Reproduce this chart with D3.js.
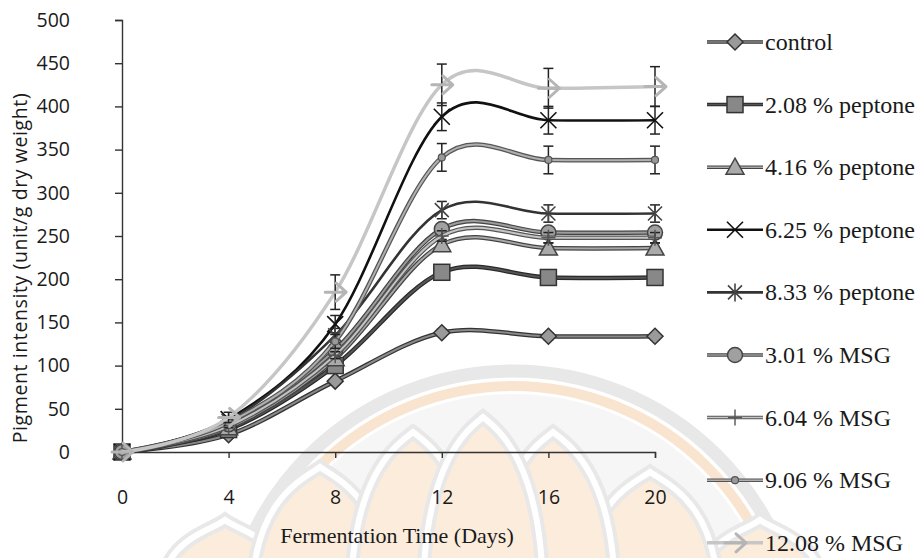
<!DOCTYPE html>
<html><head><meta charset="utf-8">
<script src="https://cdn.jsdelivr.net/npm/d3@7"></script>
<style>body{margin:0;background:#fff}svg{display:block}</style>
</head><body><svg id="c" width="918" height="558"></svg>
<script>
// ---- data ----
const days = [0, 4, 8, 12, 16, 20];
const yTicks = [0, 50, 100, 150, 200, 250, 300, 350, 400, 450, 500];
const seriesNames = ["control", "2.08 % peptone", "4.16 % peptone", "6.25 % peptone", "8.33 % peptone", "3.01 % MSG", "6.04 % MSG", "9.06  % MSG", "12.08 % MSG"];
const control    = [0, 20, 82, 138, 134, 134];
const peptone208 = [0, 26, 100, 208, 202, 202];
const peptone416 = [0, 28, 108, 240, 236, 236];
const peptone625 = [0, 38, 148, 388, 384, 384];
const peptone833 = [0, 36, 135, 280, 276, 276];
const msg301     = [0, 32, 118, 258, 254, 254];
const msg604     = [0, 30, 112, 250, 248, 248];
const msg906     = [0, 34, 128, 341, 338, 338];
const msg1208    = [0, 40, 185, 425, 421, 423];
const errControl    = [0, 2, 3, 4, 4, 4];
const errPeptone208 = [0, 2, 4, 5, 5, 5];
const errPeptone416 = [0, 2, 4, 6, 6, 6];
const errPeptone625 = [0, 3, 10, 16, 16, 16];
const errPeptone833 = [0, 3, 8, 10, 10, 10];
const errMsg301     = [0, 2, 4, 6, 6, 6];
const errMsg604     = [0, 2, 4, 6, 6, 6];
const errMsg906     = [0, 3, 8, 16, 16, 16];
const errMsg1208    = [0, 6, 20, 24, 23, 23];

const values = [control, peptone208, peptone416, peptone625, peptone833, msg301, msg604, msg906, msg1208];
const errs = [errControl, errPeptone208, errPeptone416, errPeptone625, errPeptone833, errMsg301, errMsg604, errMsg906, errMsg1208];

// ---- styles ----
const styles = [
  {outer:"#333", inner:"#8a8a8a", marker:"diamond", fill:"#9a9a9a", mstroke:"#333"},
  {outer:"#2a2a2a", inner:"#555", marker:"square", fill:"#888", mstroke:"#333"},
  {outer:"#444", inner:"#a8a8a8", marker:"triangle", fill:"#aaa", mstroke:"#444"},
  {outer:null, inner:"#111", marker:"x", fill:"none", mstroke:"#111"},
  {outer:null, inner:"#333", marker:"asterisk", fill:"none", mstroke:"#444"},
  {outer:"#444", inner:"#9d9d9d", marker:"circle", fill:"#a0a0a0", mstroke:"#444"},
  {outer:"#555", inner:"#c4c4c4", marker:"plus", fill:"none", mstroke:"#555"},
  {outer:"#555", inner:"#b0b0b0", marker:"dot", fill:"#999", mstroke:"#555"},
  {outer:null, inner:"#c6c6c6", marker:"arrow", fill:"none", mstroke:"#b5b5b5", w:3.5}
];

const svg = d3.select("#c");
const x = d3.scaleLinear().domain([0, 20]).range([122, 655]);
const y = d3.scaleLinear().domain([0, 500]).range([452, 20]);

// faint watermark (lotus emblem)
const wm = svg.append("g");
const wc = [513, 660];
wm.append("circle").attr("cx", wc[0]).attr("cy", wc[1]).attr("r", 266).attr("fill", "#f6f6f6");
wm.append("circle").attr("cx", wc[0]).attr("cy", wc[1]).attr("r", 289).attr("fill", "none").attr("stroke", "#e8e8e8").attr("stroke-width", 13);
wm.append("circle").attr("cx", wc[0]).attr("cy", wc[1]).attr("r", 274).attr("fill", "none").attr("stroke", "#f9e5cf").attr("stroke-width", 10);
function petal(px, py, hw) {
  const base = 600;
  return `M${px - hw},${base} C${px - hw},${py + (base - py) * 0.25} ${px - hw * 0.25},${py + 12} ${px},${py} C${px + hw * 0.25},${py + 12} ${px + hw},${py + (base - py) * 0.25} ${px + hw},${base} Z`;
}
[[225, 520, 65], [760, 520, 65], [320, 467, 68], [650, 472, 68], [413, 432, 62], [553, 432, 62], [483, 417, 60]].forEach(([px, py, hw]) => {
  wm.append("path").attr("d", petal(px, py, hw)).attr("fill", "#fcecdc").attr("stroke", "#e8e8e8").attr("stroke-width", 14);
  wm.append("path").attr("d", petal(px, py, hw)).attr("fill", "none").attr("stroke", "#fff").attr("stroke-width", 6);
});

// axes
const yAxis = d3.axisLeft(y).tickValues(yTicks).tickSize(7).tickPadding(45);
const gy = svg.append("g").attr("transform", "translate(122,0)").call(yAxis);
gy.selectAll("text").attr("font-family", "'Open Sans', sans-serif").attr("font-size", 19.5).attr("fill", "#1a1a1a");
gy.selectAll("line, path").attr("stroke", "#333").attr("stroke-width", 1.4);

const xAxis = d3.axisBottom(x).tickValues(days).tickSize(6);
const gx = svg.append("g").attr("transform", "translate(0,452)").call(xAxis);
gx.selectAll("text").attr("y", 45).attr("dy", "0.35em")
  .attr("font-family", "'Open Sans', sans-serif").attr("font-size", 19.5).attr("fill", "#1a1a1a");
gx.selectAll("line, path").attr("stroke", "#333").attr("stroke-width", 1.4);

svg.append("text").attr("transform", "translate(19,268) rotate(-90)")
  .attr("text-anchor", "middle").attr("dominant-baseline", "central")
  .attr("font-family", "'Open Sans', sans-serif").attr("font-size", 19.5).attr("letter-spacing", 0.6).attr("fill", "#1a1a1a")
  .text("Pigment intensity (unit/g dry weight)");
svg.append("text").attr("x", 397).attr("y", 535)
  .attr("text-anchor", "middle").attr("dominant-baseline", "central")
  .attr("font-family", "'Liberation Serif', 'Times New Roman', serif").attr("font-size", 22).attr("fill", "#1a1a1a")
  .text("Fermentation Time (Days)");

// markers
function drawMarker(g, type, cx, cy, st) {
  const m = g.append("g").attr("transform", `translate(${cx},${cy})`);
  switch (type) {
    case "diamond":
      m.append("path").attr("d", "M0,-8L8,0L0,8L-8,0Z").attr("fill", st.fill).attr("stroke", st.mstroke).attr("stroke-width", 1.5); break;
    case "square":
      m.append("rect").attr("x", -8).attr("y", -8).attr("width", 16).attr("height", 16).attr("fill", st.fill).attr("stroke", st.mstroke).attr("stroke-width", 1.5); break;
    case "triangle":
      m.append("path").attr("d", "M0,-9L9,7L-9,7Z").attr("fill", st.fill).attr("stroke", st.mstroke).attr("stroke-width", 1.5); break;
    case "x":
      m.append("path").attr("d", "M-8,-8L8,8M-8,8L8,-8").attr("stroke", st.mstroke).attr("stroke-width", 1.6); break;
    case "asterisk":
      m.append("path").attr("d", "M-7,-7L7,7M-7,7L7,-7M0,-9L0,9").attr("stroke", st.mstroke).attr("stroke-width", 1.6); break;
    case "circle":
      m.append("circle").attr("r", 7.5).attr("fill", st.fill).attr("stroke", st.mstroke).attr("stroke-width", 1.5); break;
    case "plus":
      m.append("path").attr("d", "M0,-8L0,8M-7,0L7,0").attr("stroke", st.mstroke).attr("stroke-width", 1.4); break;
    case "dot":
      m.append("circle").attr("r", 3.5).attr("fill", st.fill).attr("stroke", st.mstroke).attr("stroke-width", 1.2); break;
    case "arrow":
      m.append("path").attr("d", "M-10,0L10,0M1,-9L11,0L1,9").attr("fill", "none").attr("stroke", st.mstroke).attr("stroke-width", 3).attr("stroke-linejoin", "round").attr("stroke-linecap", "round"); break;
  }
}

const line = d3.line().x((d, i) => x(days[i])).y(d => y(d)).curve(d3.curveCatmullRom.alpha(0));
const plot = svg.append("g");

values.forEach((vals, k) => {
  const st = styles[k];
  const g = plot.append("g");
  if (st.outer) g.append("path").attr("d", line(vals)).attr("fill", "none").attr("stroke", st.outer).attr("stroke-width", 4.5);
  g.append("path").attr("d", line(vals)).attr("fill", "none").attr("stroke", st.inner).attr("stroke-width", st.outer ? 2 : (st.w || 2.6));
  vals.forEach((v, i) => {
    const e = errs[k][i];
    if (e > 0) {
      const xx = x(days[i]);
      const eb = g.append("g").attr("stroke", "#222").attr("stroke-width", 1.5);
      eb.append("line").attr("x1", xx).attr("x2", xx).attr("y1", y(v - e)).attr("y2", y(v + e));
      eb.append("line").attr("x1", xx - 5).attr("x2", xx + 5).attr("y1", y(v - e)).attr("y2", y(v - e));
      eb.append("line").attr("x1", xx - 5).attr("x2", xx + 5).attr("y1", y(v + e)).attr("y2", y(v + e));
    }
    drawMarker(g, st.marker, x(days[i]), y(v), st);
  });
});

// legend
const lg = svg.append("g");
seriesNames.forEach((name, k) => {
  const st = styles[k];
  const ly = 42 + k * 62.6;
  if (st.outer) lg.append("line").attr("x1", 707).attr("x2", 763).attr("y1", ly).attr("y2", ly).attr("stroke", st.outer).attr("stroke-width", 3.5);
  lg.append("line").attr("x1", 707).attr("x2", 763).attr("y1", ly).attr("y2", ly).attr("stroke", st.inner).attr("stroke-width", st.outer ? 1.5 : (st.w || 2.6));
  drawMarker(lg, st.marker, 735, ly, st);
  lg.append("text").attr("x", 765).attr("y", ly).attr("dominant-baseline", "central")
    .attr("font-family", "'Liberation Serif', 'Times New Roman', serif").attr("font-size", 24).attr("fill", "#1a1a1a")
    .text(name);
});
</script></body></html>
